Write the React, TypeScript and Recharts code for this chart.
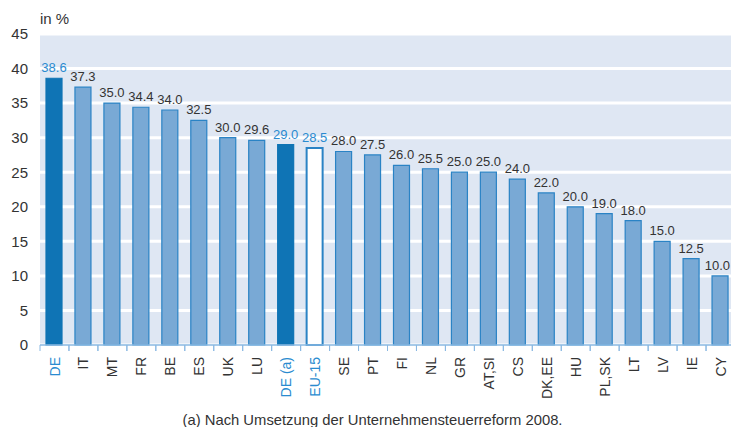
import { Bar, BarChart, CartesianGrid, Cell, LabelList, XAxis, YAxis } from 'recharts';

const countries = [
  'DE', 'IT', 'MT', 'FR', 'BE', 'ES', 'UK', 'LU', 'DE (a)', 'EU-15', 'SE', 'PT',
  'FI', 'NL', 'GR', 'AT,SI', 'CS', 'DK,EE', 'HU', 'PL,SK', 'LT', 'LV', 'IE', 'CY',
];
const rates = [
  38.6, 37.3, 35.0, 34.4, 34.0, 32.5, 30.0, 29.6, 29.0, 28.5, 28.0, 27.5,
  26.0, 25.5, 25.0, 25.0, 24.0, 22.0, 20.0, 19.0, 18.0, 15.0, 12.5, 10.0,
];
const yTicks = [0, 5, 10, 15, 20, 25, 30, 35, 40, 45];
const highlighted = ['DE', 'DE (a)', 'EU-15'];

const data = countries.map((name, i) => ({ name, value: rates[i] }));

const BLUE_TEXT = '#2a8bd0';
const INK = '#333';

function fillFor(name: string) {
  if (name === 'DE' || name === 'DE (a)') return '#0f74b5';
  if (name === 'EU-15') return '#ffffff';
  return '#79a9d5';
}

// eslint-disable-next-line @typescript-eslint/no-explicit-any
function CountryTick(props: any) {
  const { x, y, payload } = props;
  const half = payload?.offset ?? 14.5;
  const color = highlighted.includes(payload.value) ? BLUE_TEXT : INK;
  return (
    <g>
      <line x1={x - half} x2={x - half} y1={y - 7} y2={y - 1} stroke="#8ab8e2" strokeWidth={1} />
      <line x1={x + half} x2={x + half} y1={y - 7} y2={y - 1} stroke="#8ab8e2" strokeWidth={1} />
      <text
        transform={`translate(${x},${y + 5}) rotate(-90)`}
        textAnchor="end"
        dy="0.36em"
        fontSize={14}
        fill={color}
      >
        {payload.value}
      </text>
    </g>
  );
}

// eslint-disable-next-line @typescript-eslint/no-explicit-any
function ValueLabel(props: any) {
  const { x, y, width, value, index } = props;
  const color = highlighted.includes(countries[index]) ? BLUE_TEXT : INK;
  const cx = x + width / 2;
  // keep the last label inside the visible page
  const nearEdge = cx + 13 > 730;
  return (
    <text
      x={nearEdge ? 730 : cx}
      y={y - 6}
      textAnchor={nearEdge ? 'end' : 'middle'}
      fontSize={13}
      fill={color}
    >
      {Number(value).toFixed(1)}
    </text>
  );
}

export default function App() {
  return (
    <div
      style={{
        position: 'absolute',
        left: 0,
        top: 0,
        width: 731,
        height: 427,
        overflow: 'hidden',
        background: '#fff',
        fontFamily: '"Liberation Sans", Arial, sans-serif',
      }}
    >
      <div style={{ position: 'absolute', left: 40, top: 10, fontSize: 15, color: INK }}>in %</div>
      <BarChart
        width={740}
        height={427}
        data={data}
        margin={{ top: 34, right: 5, left: 0, bottom: 22 }}
        style={{ fontFamily: '"Liberation Sans", Arial, sans-serif' }}
      >
        <CartesianGrid vertical={false} stroke="#ffffff" strokeWidth={3} fill="#dfe7f3" />
        <XAxis
          dataKey="name"
          interval={0}
          height={60}
          tickLine={false}
          tickSize={6}
          tickMargin={1}
          axisLine={{ stroke: '#8ab8e2', strokeWidth: 1.5 }}
          tick={<CountryTick />}
        />
        <YAxis
          domain={[0, 45]}
          ticks={yTicks}
          width={40}
          axisLine={false}
          tickLine={false}
          tickSize={0}
          tickMargin={12}
          tick={{ fontSize: 15, fill: INK }}
        />
        <Bar dataKey="value" barSize={16} stroke="#2a83c5" strokeWidth={1.2} isAnimationActive={false}>
          {data.map((d) => (
            <Cell
              key={d.name}
              fill={fillFor(d.name)}
              strokeWidth={d.name === 'EU-15' ? 2 : 1.2}
              stroke={d.name === 'DE' || d.name === 'DE (a)' ? '#0f74b5' : '#2a83c5'}
            />
          ))}
          <LabelList dataKey="value" content={<ValueLabel />} />
        </Bar>
      </BarChart>
      <div
        style={{
          position: 'absolute',
          left: 0,
          width: 745,
          top: 412,
          textAlign: 'center',
          fontSize: 14.8,
          color: INK,
        }}
      >
        (a) Nach Umsetzung der Unternehmensteuerreform 2008.
      </div>
    </div>
  );
}
